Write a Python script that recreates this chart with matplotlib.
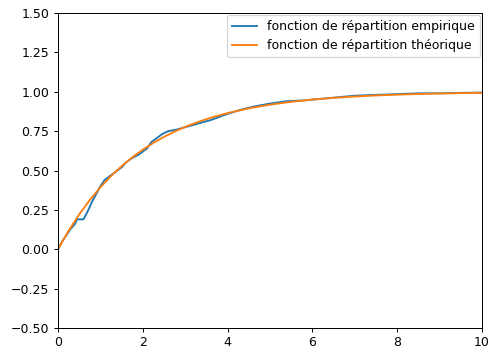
import matplotlib
matplotlib.use('Agg')
import matplotlib.pyplot as plt

# Fonction de répartition empirique
x_emp = [0, 0.1, 0.2, 0.3, 0.4, 0.45, 0.6, 0.7, 0.8, 0.9, 1.0, 1.1, 1.2, 1.35,
         1.5, 1.6, 1.75, 1.9, 2.0, 2.1, 2.2, 2.3, 2.45, 2.6, 2.8, 3.0, 3.2,
         3.4, 3.6, 3.8, 4.0, 4.3, 4.6, 5.0, 5.4, 5.8, 6.2, 6.6, 7.0, 7.5, 8.0,
         8.5, 9.0, 9.5, 10]
y_emp = [0, 0.05, 0.09, 0.13, 0.16, 0.19, 0.19, 0.24, 0.30, 0.35, 0.40, 0.44,
         0.46, 0.49, 0.52, 0.55, 0.58, 0.60, 0.62, 0.64, 0.68, 0.70, 0.73,
         0.75, 0.76, 0.775, 0.79, 0.805, 0.82, 0.84, 0.86, 0.885, 0.905,
         0.925, 0.94, 0.945, 0.955, 0.965, 0.975, 0.98, 0.985, 0.99, 0.99,
         0.993, 0.995]

# Fonction de répartition théorique (points relevés)
x_th = [0, 0.25, 0.5, 0.75, 1, 1.25, 1.5, 1.75, 2, 2.25, 2.5, 2.75, 3, 3.25,
        3.5, 3.75, 4, 4.5, 5, 5.5, 6, 6.5, 7, 7.5, 8, 8.5, 9, 9.5, 10]
y_th = [0, 0.1175, 0.2212, 0.3127, 0.3935, 0.4647, 0.5276, 0.5831, 0.6321,
        0.6753, 0.7135, 0.7471, 0.7769, 0.8031, 0.8262, 0.8466, 0.8647,
        0.8946, 0.9179, 0.9361, 0.9502, 0.9612, 0.9698, 0.9765, 0.9817,
        0.9857, 0.9889, 0.9913, 0.9933]

dpi = 90
fig = plt.figure(figsize=(493 / dpi, 347 / dpi), dpi=dpi)
ax = fig.add_axes([58 / 493, 19 / 347, 424 / 493, 315 / 347])

ax.plot(x_emp, y_emp, label='fonction de répartition empirique')
ax.plot(x_th, y_th, label='fonction de répartition théorique')

ax.set_xlim(0, 10)
ax.set_ylim(-0.5, 1.5)
ax.tick_params(axis='x', pad=2.5)
ax.legend(loc='upper right', borderaxespad=0.15)

fig.savefig('out.png', dpi=dpi)
